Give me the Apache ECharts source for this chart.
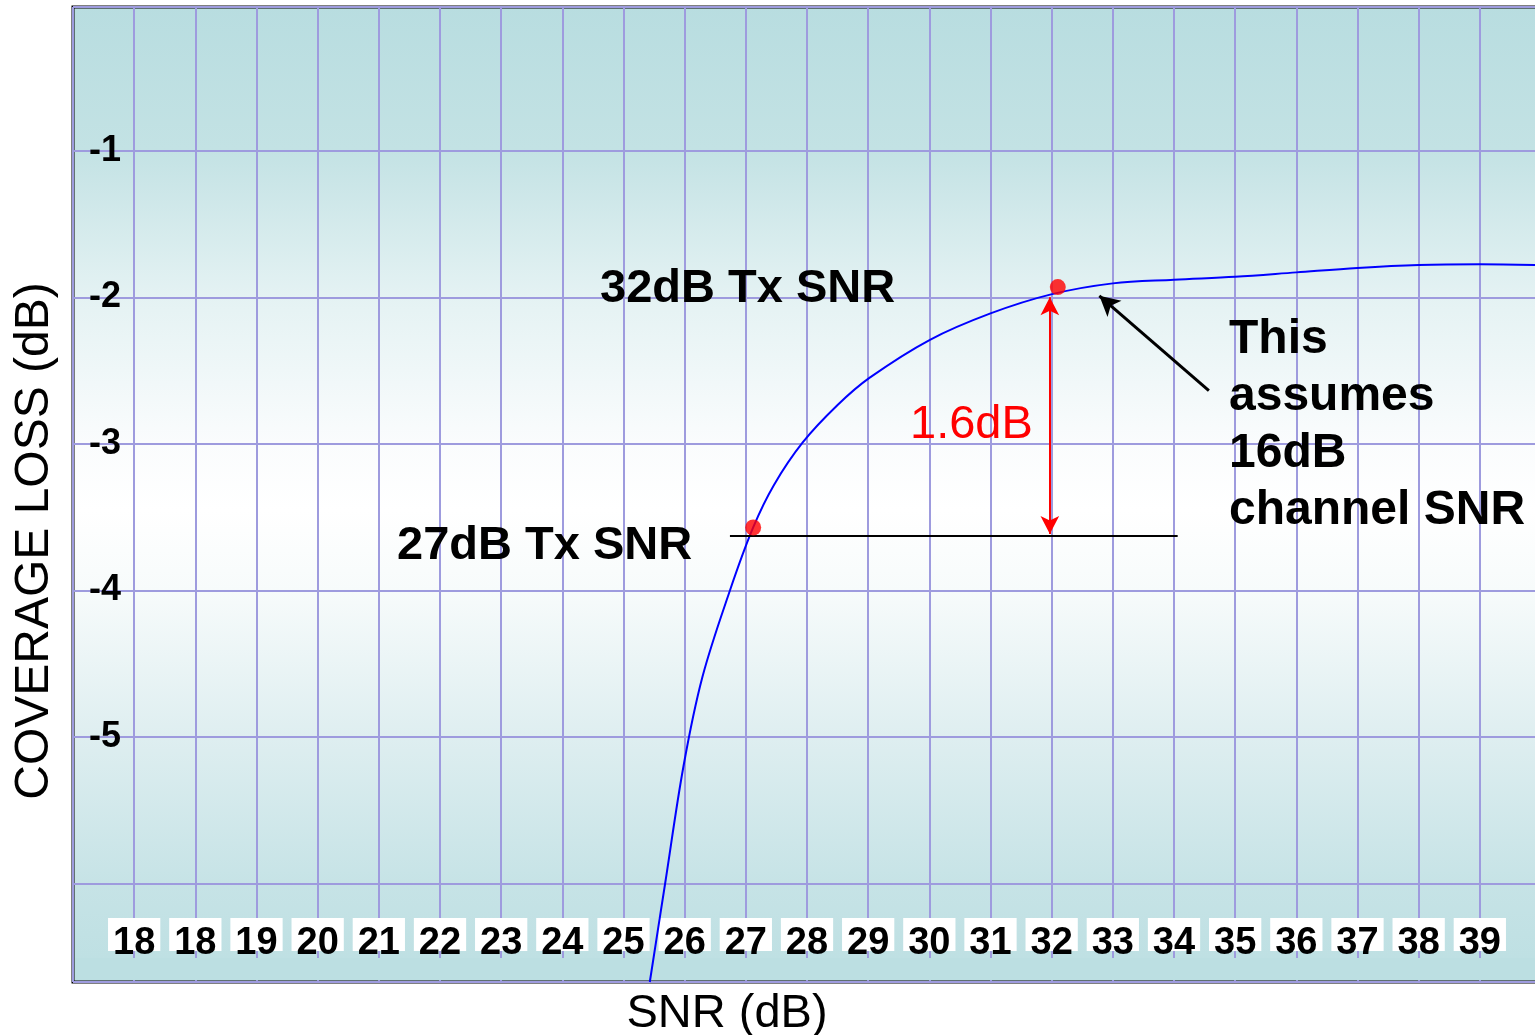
<!DOCTYPE html>
<html>
<head>
<meta charset="utf-8">
<script src="https://cdn.jsdelivr.net/npm/echarts@6/dist/echarts.min.js"></script>
<style>
html,body{margin:0;padding:0;background:#fff;}
#chart{width:1535px;height:1035px;}
</style>
</head>
<body>
<div id="chart"></div>
<script>
// ---- data ----
const tickLabels = ["18","18","19","20","21","22","23","24","25","26","27","28","29","30","31","32","33","34","35","36","37","38","39"]; // for SNR ticks 17..39
const firstTickValue = 17;
const snrValues  = [25.43, 25.68, 25.98, 26.29, 26.74, 27.12, 27.46, 27.93, 28.50, 29.02, 30.01, 31.00, 31.99, 33.0, 34.0, 35.0, 36.0, 37.0, 38.0, 39.0, 39.92];
const lossValues = [-6.67, -6.00, -5.20, -4.59, -4.00, -3.57, -3.28, -2.99, -2.735, -2.55, -2.29, -2.11, -1.98, -1.905, -1.88, -1.86, -1.83, -1.80, -1.78, -1.775, -1.78];
const markedSnr  = [27.12, 32.10];
const markedLoss = [-3.57, -1.93];
const refLine    = { snrFrom: 26.74, snrTo: 34.06, loss: -3.625 };
const gapArrow   = { snr: 31.97, lossTop: -2.0, lossBottom: -3.615 };
const noteArrow  = { fromSnr: 34.57, fromLoss: -2.636, toSnr: 32.78, toLoss: -1.99 };

const curve = snrValues.map((x, i) => [x, lossValues[i]]);
const dots = markedSnr.map((x, i) => [x, markedLoss[i]]);

const chart = echarts.init(document.getElementById('chart'), null, {renderer: 'canvas'});
const FONT = 'Liberation Sans, Arial, Helvetica, sans-serif';
const gridColor = '#9e9bde';

const option = {
  backgroundColor: '#ffffff',
  animation: false,
  grid: {
    left: 73, right: -6, top: 7, bottom: 53,
    outerBoundsMode: 'none', containLabel: false,
    show: true,
    borderColor: '#000', borderWidth: 3,
    backgroundColor: new echarts.graphic.LinearGradient(0, 0, 0, 1, [
      {offset: 0, color: '#b8dde0'},
      {offset: 0.147, color: '#c3e2e4'},
      {offset: 0.297, color: '#e4f2f3'},
      {offset: 0.447, color: '#fafcfd'},
      {offset: 0.516, color: '#ffffff'},
      {offset: 0.598, color: '#f7fbfb'},
      {offset: 0.749, color: '#deeef0'},
      {offset: 0.898, color: '#c6e3e6'},
      {offset: 1, color: '#bcdfe2'}
    ])
  },
  xAxis: {
    type: 'value', min: 16, max: 40, interval: 1,
    name: 'SNR (dB)', nameLocation: 'middle', nameGap: 9,
    nameTextStyle: {fontFamily: FONT, fontSize: 47, color: '#000', padding: [0, 160, 0, 0], verticalAlign: 'top'},
    axisLine: {show: false}, axisTick: {show: false},
    splitLine: {show: true, lineStyle: {color: gridColor, width: 2}},
    axisLabel: {
      inside: true, margin: 31,
      fontFamily: FONT, fontWeight: 'bold', fontSize: 38, color: '#000',
      backgroundColor: '#ffffff', padding: [18, 5, 0, 5], lineHeight: 15,
      showMinLabel: false, showMaxLabel: false,
      formatter: v => { const i = Math.round(v) - firstTickValue; return (i >= 0 && i < tickLabels.length) ? tickLabels[i] : ''; }
    }
  },
  yAxis: {
    type: 'value', min: -6.67, max: -0.02, splitNumber: 7, minInterval: 1, maxInterval: 1,
    name: 'COVERAGE LOSS (dB)', nameLocation: 'middle', nameGap: 14,
    nameTextStyle: {fontFamily: FONT, fontSize: 48, color: '#000', padding: [0, 93, 0, 0]},
    axisLine: {show: false}, axisTick: {show: false},
    splitLine: {show: true, lineStyle: {color: gridColor, width: 2}},
    axisLabel: {
      inside: true, margin: 16,
      fontFamily: FONT, fontWeight: 'bold', fontSize: 36, color: '#000',
      padding: [0, 0, 12, 0],
      showMinLabel: false,
      formatter: v => (Math.abs(v - Math.round(v)) < 1e-6 && v <= -1 && v >= -5) ? String(Math.round(v)) : ''
    }
  },
  graphic: [
    {type: 'rect', z: 1, silent: true, shape: {x: 75, y: 958, width: 1470, height: 22}, style: {fill: '#bcdfe2'}},
    {type: 'text', z: 10, style: {text: '32dB Tx SNR', x: 600, y: 289, verticalAlign: 'middle', font: 'bold 47px ' + FONT, fill: '#000'}},
    {type: 'text', z: 10, style: {text: '27dB Tx SNR', x: 397, y: 546, verticalAlign: 'middle', font: 'bold 47px ' + FONT, fill: '#000'}},
    {type: 'text', z: 10, style: {text: '1.6dB', x: 910, y: 425, verticalAlign: 'middle', font: '47px ' + FONT, fill: '#ff0000'}},
    {type: 'text', z: 10, style: {text: 'This\nassumes\n16dB\nchannel SNR', x: 1229, y: 311, verticalAlign: 'top', lineHeight: 57, font: 'bold 48px ' + FONT, fill: '#000'}}
  ],
  series: [
    {
      type: 'line', data: curve, smooth: 0.35, showSymbol: false, z: 3,
      lineStyle: {color: '#0000ff', width: 2},
      markLine: {
        silent: true, symbol: ['none', 'none'], animation: false,
        label: {show: false},
        lineStyle: {color: '#000', width: 2, type: 'solid'},
        data: [[{coord: [refLine.snrFrom, refLine.loss]}, {coord: [refLine.snrTo, refLine.loss]}]]
      }
    },
    {
      type: 'line', data: [], z: 4,
      markLine: {
        silent: true, symbol: ['arrow', 'arrow'], symbolSize: [14, 18], animation: false,
        label: {show: false},
        lineStyle: {color: '#ff0000', width: 2, type: 'solid'},
        data: [[{coord: [gapArrow.snr, gapArrow.lossTop]}, {coord: [gapArrow.snr, gapArrow.lossBottom]}]]
      }
    },
    {
      type: 'line', data: [], z: 4,
      markLine: {
        silent: true, symbol: ['none', 'arrow'], symbolSize: [16, 20], animation: false,
        label: {show: false},
        lineStyle: {color: '#000', width: 3, type: 'solid'},
        data: [[{coord: [noteArrow.fromSnr, noteArrow.fromLoss]}, {coord: [noteArrow.toSnr, noteArrow.toLoss]}]]
      }
    },
    {
      type: 'scatter', data: dots, symbolSize: 16, z: 5,
      itemStyle: {color: '#ff0000'}
    }
  ]
};
chart.setOption(option);
</script>
</body>
</html>
